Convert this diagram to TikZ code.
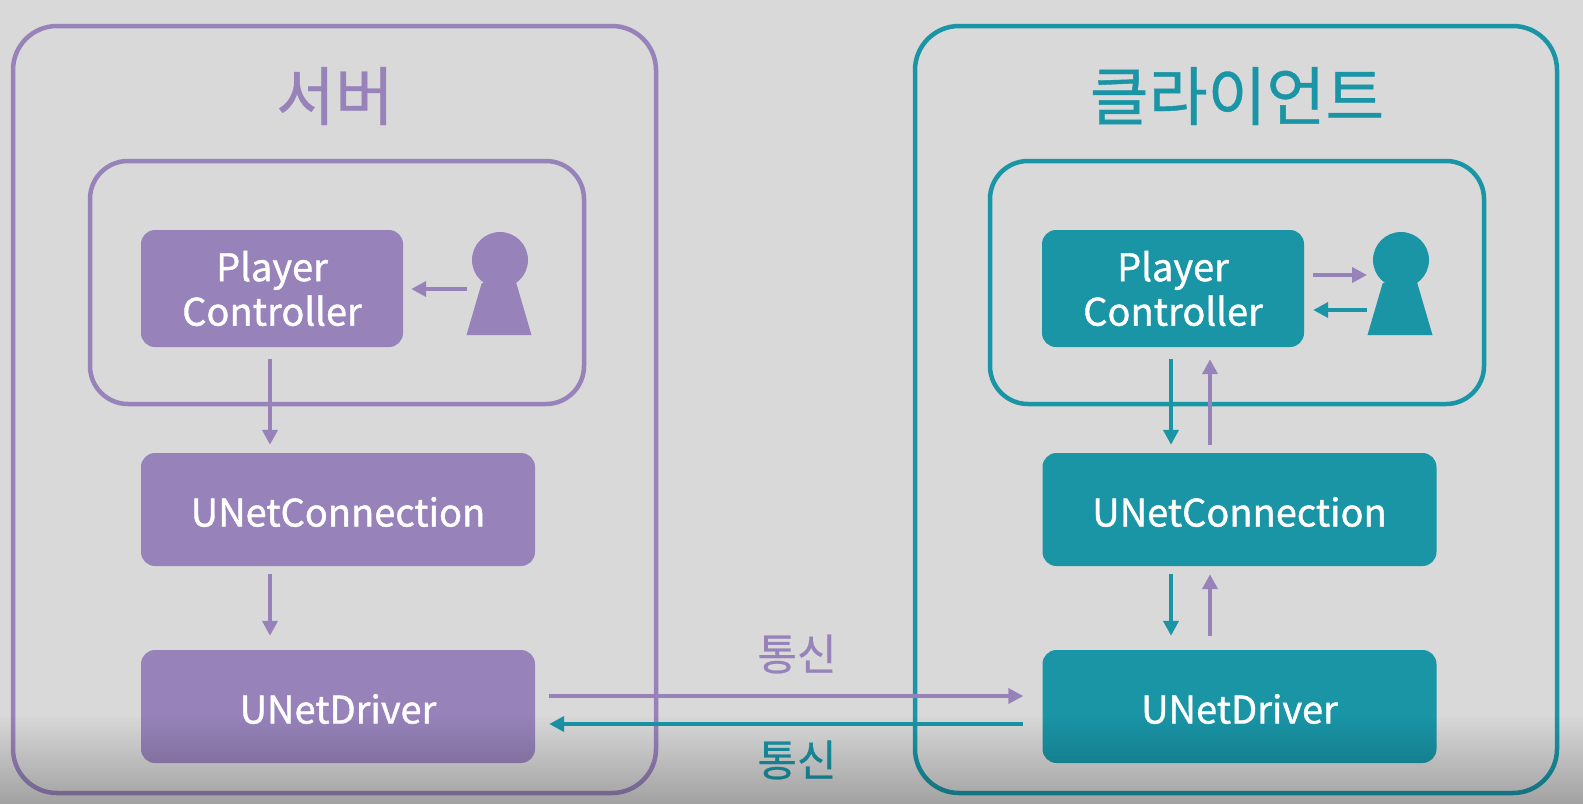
\documentclass[tikz,border=0pt]{standalone}
\usepackage{fontspec}
\setmainfont[FakeBold=0.6]{Noto Sans CJK KR}
\newfontfamily\boxfont[FakeBold=1.1]{Noto Sans CJK KR}
\usetikzlibrary{arrows.meta,calc,shapes.geometric}
\definecolor{bgG}{HTML}{D9D9D9}
\definecolor{servP}{HTML}{9783BA}
\definecolor{clntT}{HTML}{1995A6}
\begin{document}
\begin{tikzpicture}[x=1pt,y=-1pt,
 outerS/.style={draw=servP, line width=4.5pt, rounded corners=44pt},
 outerC/.style={draw=clntT, line width=4.5pt, rounded corners=44pt},
 innerS/.style={draw=servP, line width=4.5pt, rounded corners=38pt},
 innerC/.style={draw=clntT, line width=4.5pt, rounded corners=38pt},
 box/.style={rounded corners=14pt, text=white, align=center, inner sep=0pt,
             font=\boxfont\fontsize{38}{44.5}\selectfont},
 pc/.style={box, minimum width=262pt, minimum height=117pt},
 wide/.style={box, minimum width=394pt, minimum height=113pt, text height=34pt, text depth=0pt},
 head/.style={circle, inner sep=0pt, minimum size=56pt},
 body/.style={trapezium, trapezium stretches=true, trapezium angle=68, inner sep=0pt,
              minimum width=65pt, minimum height=52pt},
 title/.style={font=\fontsize{64}{68}\selectfont},
 talk/.style={font=\fontsize{43}{46}\selectfont},
 ar/.style={-{Triangle[length=15pt,width=15pt]}, line width=4.5pt},
]
 \fill[bgG] (0,0) rectangle (1583,804);
 % server side
 \node[outerS, minimum width=643pt, minimum height=767pt, inner sep=0pt] (srv) at (334.5,409.5) {};
 \node[innerS, minimum width=494pt, minimum height=243pt, inner sep=0pt] (srvIn) at (337,282.5) {};
 \node[title, text=servP] (srvT) at (335,96) {서버};
 \node[pc, fill=servP] (pcS) at (272,288.5) {Player\\Controller};
 \node[wide, fill=servP] (connS) at (338,509.5) {UNetConnection};
 \node[wide, fill=servP] (drvS) at (338,706.5) {UNetDriver};
 \node[head, fill=servP] (headS) at (500,260) {};
 \node[body, fill=servP] (bodyS) at (499,309) {\phantom{x}};
 % client side
 \node[outerC, minimum width=642pt, minimum height=767pt, inner sep=0pt] (cli) at (1236,409.5) {};
 \node[innerC, minimum width=494pt, minimum height=243pt, inner sep=0pt] (cliIn) at (1237,282.5) {};
 \node[title, text=clntT] (cliT) at (1237,96) {클라이언트};
 \node[pc, fill=clntT] (pcC) at (1173,288.5) {Player\\Controller};
 \node[wide, fill=clntT] (connC) at (1239.5,509.5) {UNetConnection};
 \node[wide, fill=clntT] (drvC) at (1239.5,706.5) {UNetDriver};
 \node[head, fill=clntT] (headC) at (1401,260) {};
 \node[body, fill=clntT] (bodyC) at (1400,309) {\phantom{x}};
 % arrows on server side
 \coordinate (pawnS) at (467,289);
 \draw[ar, servP, shorten >=8pt] (pawnS) -- (pcS.east |- pawnS);
 \draw[ar, servP, shorten <=12pt, shorten >=8pt] ([xshift=-2pt]pcS.south) -- ([xshift=-68pt]connS.north);
 \draw[ar, servP, shorten <=8pt, shorten >=14pt] ([xshift=-68pt]connS.south) -- ([xshift=-68pt]drvS.north);
 % arrows on client side
 \coordinate (pawnCa) at (1367,275);
 \coordinate (pawnCb) at (1367,310);
 \draw[ar, servP, shorten <=9pt] (pcC.east |- pawnCa) -- (pawnCa);
 \draw[ar, clntT, shorten >=9pt] (pawnCb) -- (pcC.east |- pawnCb);
 \draw[ar, clntT, shorten <=12pt, shorten >=8pt] ([xshift=-2pt]pcC.south) -- ([xshift=-68.5pt]connC.north);
 \draw[ar, servP, shorten <=8pt, shorten >=12pt] ([xshift=-29.5pt]connC.north) -- ([xshift=37pt]pcC.south);
 \draw[ar, clntT, shorten <=8pt, shorten >=14pt] ([xshift=-68.5pt]connC.south) -- ([xshift=-68.5pt]drvC.north);
 \draw[ar, servP, shorten <=14pt, shorten >=8pt] ([xshift=-29.5pt]drvC.north) -- ([xshift=-29.5pt]connC.south);
 % link between drivers
 \draw[ar, servP, shorten <=14pt, shorten >=19pt] ([yshift=10.5pt]drvS.east) -- ([yshift=10.5pt]drvC.west);
 \draw[ar, clntT, shorten <=19pt, shorten >=14pt] ([yshift=-17.5pt]drvC.west) -- ([yshift=-17.5pt]drvS.east);
 \node[talk, text=servP] (talkA) at (797,654) {통신};
 \node[talk, text=clntT] (talkB) at (797,760) {통신};
 % darker band at the bottom
 \foreach \k in {0,...,44}
   \fill[black, opacity=\k*0.0057] (0,714+2*\k) rectangle (1583,716+2*\k);
 \useasboundingbox (0,0) rectangle (1583,804);
\end{tikzpicture}
\end{document}
